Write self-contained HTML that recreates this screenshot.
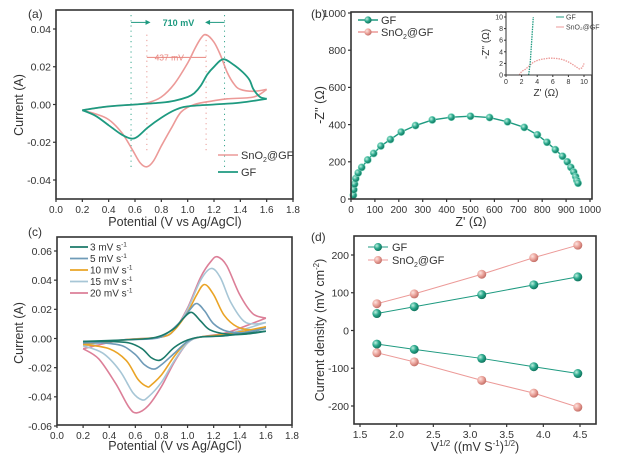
<!DOCTYPE html>
<html><head><meta charset="utf-8"><style>
html,body{margin:0;padding:0;background:#fff;}
svg{display:block;font-family:"Liberation Sans",sans-serif;}
</style></head><body>
<svg id="fig" width="625" height="461" viewBox="0 0 625 461" xmlns="http://www.w3.org/2000/svg">
<defs>
<radialGradient id="gG" cx="0.35" cy="0.35" r="0.7"><stop offset="0" stop-color="#bff0e0"/><stop offset="0.5" stop-color="#2aa88c"/><stop offset="1" stop-color="#0e6e58"/></radialGradient>
<radialGradient id="gP" cx="0.35" cy="0.35" r="0.7"><stop offset="0" stop-color="#fde4e0"/><stop offset="0.5" stop-color="#eba49c"/><stop offset="1" stop-color="#c06a62"/></radialGradient>
</defs>
</svg>
<script>
// ---- Panel (a) data ----
const aSnFwd=[[0.2,-0.003],[0.4,-0.001],[0.6,0.000],[0.7,0.001],[0.8,0.004],[0.9,0.011],[1.0,0.022],[1.05,0.029],[1.1,0.035],[1.14,0.037],[1.2,0.033],[1.25,0.026],[1.3,0.017],[1.35,0.011],[1.4,0.008],[1.5,0.007],[1.6,0.008]];
const aSnRev=[[1.6,0.008],[1.5,0.004],[1.3,0.003],[1.2,0.002],[1.05,0.000],[0.95,-0.004],[0.88,-0.012],[0.8,-0.022],[0.74,-0.030],[0.69,-0.033],[0.64,-0.031],[0.58,-0.024],[0.5,-0.015],[0.4,-0.008],[0.3,-0.005],[0.2,-0.003]];
const aGFFwd=[[0.2,-0.003],[0.4,-0.001],[0.6,0.000],[0.8,0.001],[0.9,0.002],[1.0,0.004],[1.05,0.006],[1.1,0.010],[1.15,0.016],[1.2,0.020],[1.27,0.024],[1.35,0.021],[1.42,0.017],[1.47,0.013],[1.5,0.008],[1.55,0.004],[1.6,0.003]];
const aGFRev=[[1.6,0.003],[1.4,0.001],[1.2,0.000],[1.0,-0.001],[0.9,-0.003],[0.8,-0.007],[0.7,-0.012],[0.62,-0.017],[0.57,-0.018],[0.5,-0.016],[0.4,-0.011],[0.3,-0.006],[0.2,-0.003]];
const aMarkersGF=[0.57,1.28];
const aMarkersSn=[0.69,1.14];
const aXTicks=[0,0.2,0.4,0.6,0.8,1.0,1.2,1.4,1.6,1.8];
const aYTicks=[-0.04,-0.02,0,0.02,0.04];
// ---- Panel (b) data ----
const bGF=[[10,20],[12,50],[15,80],[20,110],[30,140],[45,170],[70,210],[95,245],[125,285],[165,320],[210,360],[270,395],[340,425],[420,440],[500,445],[580,438],[655,415],[725,385],[780,345],[820,305],[855,265],[885,230],[905,200],[920,170],[932,145],[940,120],[945,100],[950,85]];
const bInsetGF=[[2.9,0],[3.0,1],[3.1,2],[3.15,3],[3.2,4],[3.25,5],[3.3,6],[3.35,7],[3.4,8],[3.45,9],[3.5,10],[3.55,11]];
const bInsetSn=[[1.7,0],[2.0,0.6],[2.5,1.0],[3.0,1.6],[3.5,2.2],[4,2.5],[4.5,2.7],[5,2.8],[5.5,2.9],[6,2.9],[6.5,2.85],[7,2.75],[7.5,2.55],[8,2.25],[8.5,1.85],[9,1.4],[9.4,1.05],[9.7,1.2],[9.9,1.6],[10,2.0]];
const bXTicks=[0,100,200,300,400,500,600,700,800,900,1000];
const bYTicks=[0,200,400,600,800,1000];
const bInXTicks=[0,2,4,6,8,10];
const bInYTicks=[0,2,4,6,8,10];
// ---- Panel (c) data ----
const cRates=["3","5","10","15","20"];
const cFwd3=[[0.2,-0.002],[0.5,-0.001],[0.7,0.000],[0.8,0.002],[0.9,0.007],[0.97,0.014],[1.03,0.018],[1.1,0.012],[1.17,0.006],[1.3,0.003],[1.45,0.003],[1.6,0.005]];
const cRev3=[[1.6,0.005],[1.3,0.002],[1.1,0.001],[1.0,-0.001],[0.9,-0.006],[0.82,-0.013],[0.78,-0.015],[0.72,-0.013],[0.65,-0.007],[0.55,-0.003],[0.4,-0.002],[0.2,-0.002]];
const cFwd5=[[0.2,-0.003],[0.5,-0.001],[0.75,0.000],[0.85,0.004],[0.95,0.012],[1.02,0.020],[1.07,0.024],[1.13,0.019],[1.2,0.010],[1.3,0.005],[1.45,0.004],[1.6,0.007]];
const cRev5=[[1.6,0.007],[1.3,0.002],[1.1,0.001],[1.0,-0.002],[0.9,-0.010],[0.8,-0.018],[0.74,-0.021],[0.67,-0.018],[0.6,-0.011],[0.5,-0.005],[0.35,-0.003],[0.2,-0.003]];
const cFwd10=[[0.2,-0.004],[0.5,-0.001],[0.8,0.001],[0.9,0.006],[1.0,0.018],[1.07,0.030],[1.13,0.037],[1.2,0.030],[1.28,0.016],[1.38,0.008],[1.5,0.006],[1.6,0.008]];
const cRev10=[[1.6,0.008],[1.3,0.003],[1.1,0.001],[1.0,-0.002],[0.9,-0.012],[0.8,-0.025],[0.72,-0.032],[0.69,-0.033],[0.62,-0.028],[0.53,-0.015],[0.4,-0.007],[0.2,-0.004]];
const cFwd15=[[0.2,-0.005],[0.5,-0.001],[0.8,0.001],[0.9,0.006],[1.0,0.020],[1.1,0.040],[1.18,0.048],[1.25,0.042],[1.33,0.025],[1.43,0.012],[1.52,0.010],[1.6,0.011]];
const cRev15=[[1.6,0.011],[1.3,0.003],[1.1,0.001],[1.0,-0.003],[0.9,-0.015],[0.8,-0.030],[0.7,-0.040],[0.65,-0.042],[0.58,-0.037],[0.48,-0.022],[0.35,-0.010],[0.2,-0.005]];
const cFwd20=[[0.2,-0.007],[0.5,-0.001],[0.8,0.001],[0.9,0.006],[1.0,0.021],[1.1,0.042],[1.18,0.053],[1.23,0.056],[1.3,0.050],[1.4,0.030],[1.5,0.017],[1.6,0.014]];
const cRev20=[[1.6,0.014],[1.3,0.004],[1.1,0.001],[1.0,-0.003],[0.9,-0.016],[0.8,-0.033],[0.7,-0.046],[0.61,-0.051],[0.55,-0.047],[0.45,-0.031],[0.32,-0.014],[0.2,-0.007]];
const cXTicks=[0,0.2,0.4,0.6,0.8,1.0,1.2,1.4,1.6,1.8];
const cYTicks=[-0.06,-0.04,-0.02,0,0.02,0.04,0.06];
// ---- Panel (d) data ----
const dX=[1.73,2.24,3.16,3.87,4.47];
const dGFpos=[45,63,95,121,142];
const dSnpos=[71,97,149,193,226];
const dGFneg=[-36,-50,-74,-96,-114];
const dSnneg=[-59,-83,-132,-166,-203];
const dXTicks=[1.5,2.0,2.5,3.0,3.5,4.0,4.5];
const dYTicks=[-200,-100,0,100,200];

const svg=document.getElementById('fig');
const NS='http://www.w3.org/2000/svg';
function mk(tag,attrs,parent,text){const e=document.createElementNS(NS,tag);for(const k in attrs)e.setAttribute(k,attrs[k]);if(text!==undefined)e.textContent=text;(parent||svg).appendChild(e);return e;}
function lin(v0,p0,v1,p1){return v=>p0+(v-v0)*(p1-p0)/(v1-v0);}
function smooth(pts){let d='M'+pts[0][0].toFixed(1)+','+pts[0][1].toFixed(1);for(let i=0;i<pts.length-1;i++){const p0=pts[i-1]||pts[i],p1=pts[i],p2=pts[i+1],p3=pts[i+2]||p2;const c1=[p1[0]+(p2[0]-p0[0])/6,p1[1]+(p2[1]-p0[1])/6],c2=[p2[0]-(p3[0]-p1[0])/6,p2[1]-(p3[1]-p1[1])/6];d+='C'+c1[0].toFixed(1)+','+c1[1].toFixed(1)+' '+c2[0].toFixed(1)+','+c2[1].toFixed(1)+' '+p2[0].toFixed(1)+','+p2[1].toFixed(1);}return d;}
function frame(g,L,T,R,B){mk('rect',{x:L,y:T,width:R-L,height:B-T,fill:'none',stroke:'#333','stroke-width':1.6},g);}
function xticks(g,ticks,sx,B,fmt,fs){ticks.forEach(t=>{const x=sx(t);mk('line',{x1:x,y1:B,x2:x,y2:B+3,stroke:'#333','stroke-width':1.2},g);const tl=mk('text',{x:x,y:B+14,'text-anchor':'middle','font-size':fs||10.5,fill:'#333'},g,fmt(t));});}
function yticks(g,ticks,sy,L,fmt,fs){ticks.forEach(t=>{const y=sy(t);mk('line',{x1:L-3,y1:y,x2:L,y2:y,stroke:'#333','stroke-width':1.2},g);const tl=mk('text',{x:L-5,y:y+3.8,'text-anchor':'end','font-size':fs||10.5,fill:'#333'},g,fmt(t));});}
function curve(g,pts,sx,sy,color,w,name){const p=mk('path',{d:smooth(pts.map(q=>[sx(q[0]),sy(q[1])])),fill:'none',stroke:color,'stroke-width':w||1.6},g);return p;}
function group(name){const g=mk('g',{},svg);return g;}
const f2=t=>t.toFixed(2), f1=t=>t.toFixed(1), f0=t=>String(t);
const PINK='#ec9a98', TEAL='#1e9a80';

// ===== Panel a =====
(function(){const g=group('panel-a-cv');const L=56,T=10,R=293,B=199;
const sx=lin(0,56,1.8,293), sy=lin(0.04,29,-0.04,180);
aMarkersGF.forEach(v=>{const l=mk('line',{x1:sx(v),y1:T+5,x2:sx(v),y2:sy(-0.035),stroke:'#3aa890','stroke-width':1,'stroke-dasharray':'1.2,4'},g);});
aMarkersSn.forEach(v=>{const l=mk('line',{x1:sx(v),y1:sy(0.037),x2:sx(v),y2:sy(-0.025),stroke:'#e89a94','stroke-width':1,'stroke-dasharray':'1.2,4'},g);});
const ya=sy(0.0435);
mk('line',{x1:sx(aMarkersGF[0]),y1:ya,x2:sx(0.68),y2:ya,stroke:TEAL,'stroke-width':1},g);
mk('path',{d:`M${sx(0.68)},${ya-2.5}L${sx(0.68)+5},${ya}L${sx(0.68)},${ya+2.5}Z`,fill:TEAL},g);
mk('line',{x1:sx(1.17),y1:ya,x2:sx(aMarkersGF[1]),y2:ya,stroke:TEAL,'stroke-width':1},g);
mk('path',{d:`M${sx(1.17)},${ya-2.5}L${sx(1.17)-5},${ya}L${sx(1.17)},${ya+2.5}Z`,fill:TEAL},g);
mk('text',{x:sx(0.93),y:ya+3.5,'text-anchor':'middle','font-size':9,fill:TEAL,'font-weight':'bold'},g,'710 mV');
const yb=sy(0.025);
mk('line',{x1:sx(aMarkersSn[0]),y1:yb,x2:sx(aMarkersSn[1]),y2:yb,stroke:'#e8857e','stroke-width':1},g);
mk('text',{x:sx(0.86),y:yb+3,'text-anchor':'middle','font-size':8.5,fill:'#e8857e'},g,'437 mV');
curve(g,aSnFwd,sx,sy,PINK,1.6,'sno2-gf-forward');curve(g,aSnRev,sx,sy,PINK,1.6,'sno2-gf-reverse');
curve(g,aGFFwd,sx,sy,TEAL,1.8,'gf-forward');curve(g,aGFRev,sx,sy,TEAL,1.8,'gf-reverse');
frame(g,L,T,R,B);xticks(g,aXTicks,sx,B,f1,10);yticks(g,aYTicks,sy,L,f2,10.5);
mk('text',{x:175,y:226,'text-anchor':'middle','font-size':12.5,fill:'#333'},g,'Potential (V vs Ag/AgCl)');
mk('text',{x:0,y:0,transform:'translate(23,105) rotate(-90)','text-anchor':'middle','font-size':12.5,fill:'#333'},g,'Current (A)');
mk('text',{x:28,y:18,'font-size':12,fill:'#333'},g,'(a)');
mk('line',{x1:218,y1:155,x2:238,y2:155,stroke:PINK,'stroke-width':1.6},g);
const t1=mk('text',{x:241,y:159,'font-size':11,fill:'#333'},g);t1.innerHTML='SnO<tspan font-size="7" dy="3">2</tspan><tspan dy="-3">@GF</tspan>';
mk('line',{x1:218,y1:172,x2:238,y2:172,stroke:TEAL,'stroke-width':1.8},g);
mk('text',{x:241,y:176,'font-size':11,fill:'#333'},g,'GF');
})();

// ===== Panel b =====
(function(){const g=group('panel-b-nyquist');const L=351,T=12,R=592,B=199;
const sx=lin(0,351,1000,590), sy=lin(0,199,1000,13);
const p=mk('polyline',{points:bGF.map(q=>sx(q[0])+','+sy(q[1])).join(' '),fill:'none',stroke:TEAL,'stroke-width':1.4},g);
bGF.forEach(q=>{const c=mk('circle',{cx:sx(q[0]),cy:sy(q[1]),r:3.6,fill:'url(#gG)',stroke:'#7fd8c0','stroke-width':0.6},g);});
frame(g,L,T,R,B);xticks(g,bXTicks,sx,B,f0,10);yticks(g,bYTicks,sy,L,f0,10.5);
mk('text',{x:471,y:226,'text-anchor':'middle','font-size':12.5,fill:'#333'},g,"Z' (Ω)");
mk('text',{x:0,y:0,transform:'translate(324,105) rotate(-90)','text-anchor':'middle','font-size':12.5,fill:'#333'},g,"-Z'' (Ω)");
mk('text',{x:311,y:18,'font-size':12,fill:'#333'},g,'(b)');
mk('line',{x1:358,y1:20,x2:378,y2:20,stroke:TEAL,'stroke-width':1.4},g);mk('circle',{cx:368,cy:20,r:3.6,fill:'url(#gG)'},g);
mk('text',{x:381,y:24,'font-size':11,fill:'#333'},g,'GF');
mk('line',{x1:358,y1:32,x2:378,y2:32,stroke:PINK,'stroke-width':1.4},g);mk('circle',{cx:368,cy:32,r:3.6,fill:'url(#gP)'},g);
const t=mk('text',{x:381,y:36,'font-size':11,fill:'#333'},g);t.innerHTML='SnO<tspan font-size="7" dy="3">2</tspan><tspan dy="-3">@GF</tspan>';
// inset
const gi=group('nyquist-inset');const iL=506,iT=12,iR=592,iB=75;
const ix=lin(0,506,10,584), iy=lin(0,75,10,17);
mk('rect',{x:iL,y:iT,width:iR-iL,height:iB-iT,fill:'#fff'},gi);
const ps=mk('polyline',{points:bInsetSn.map(q=>ix(q[0])+','+iy(q[1])).join(' '),fill:'none',stroke:PINK,'stroke-width':1.3,'stroke-dasharray':'1.5,1'},gi);
const pg=mk('polyline',{points:bInsetGF.filter(q=>iy(q[1])>=iT).map(q=>ix(q[0])+','+iy(q[1])).join(' '),fill:'none',stroke:TEAL,'stroke-width':1.3,'stroke-dasharray':'1.5,1'},gi);
mk('rect',{x:iL,y:iT,width:iR-iL,height:iB-iT,fill:'none',stroke:'#333','stroke-width':1},gi);
bInXTicks.forEach(t=>{mk('line',{x1:ix(t),y1:iB,x2:ix(t),y2:iB+2,stroke:'#333'},gi);mk('text',{x:ix(t),y:iB+9,'text-anchor':'middle','font-size':7,fill:'#333'},gi,String(t));});
bInYTicks.forEach(t=>{mk('line',{x1:iL-2,y1:iy(t),x2:iL,y2:iy(t),stroke:'#333'},gi);mk('text',{x:iL-3,y:iy(t)+2.5,'text-anchor':'end','font-size':7,fill:'#333'},gi,String(t));});
mk('text',{x:546,y:96,'text-anchor':'middle','font-size':10,fill:'#333'},gi,"Z' (Ω)");
mk('text',{x:0,y:0,transform:'translate(489,44) rotate(-90)','text-anchor':'middle','font-size':10,fill:'#333'},gi,"-Z'' (Ω)");
mk('line',{x1:556,y1:17,x2:564,y2:17,stroke:TEAL},gi);mk('text',{x:566,y:19.5,'font-size':7,fill:'#444'},gi,'GF');
mk('line',{x1:556,y1:27,x2:564,y2:27,stroke:PINK},gi);mk('text',{x:566,y:29.5,'font-size':7,fill:'#444'},gi,'SnO₂@GF');
})();

// ===== Panel c =====
(function(){const g=group('panel-c-cv-rates');const L=57,T=237,R=292,B=425;
const sx=lin(0,57,1.8,292), sy=lin(0.06,251,-0.06,426);
const cols=['#1b7a6a','#6f9bb8','#eaa426','#a7c6d6','#dc7f98'];
const fw=[cFwd3,cFwd5,cFwd10,cFwd15,cFwd20], rv=[cRev3,cRev5,cRev10,cRev15,cRev20];
for(let i=4;i>=0;i--){curve(g,fw[i],sx,sy,cols[i],1.6,'cv-'+cRates[i]+'-forward');curve(g,rv[i],sx,sy,cols[i],1.6,'cv-'+cRates[i]+'-reverse');}
frame(g,L,T,R,B);xticks(g,cXTicks,sx,B,f1,10);yticks(g,cYTicks,sy,L,f2,10.5);
mk('text',{x:175,y:450,'text-anchor':'middle','font-size':12.5,fill:'#333'},g,'Potential (V vs Ag/AgCl)');
mk('text',{x:0,y:0,transform:'translate(23,333) rotate(-90)','text-anchor':'middle','font-size':12.5,fill:'#333'},g,'Current (A)');
mk('text',{x:28,y:236,'font-size':12,fill:'#333'},g,'(c)');
cRates.forEach((r,i)=>{const y=247+i*11.5;mk('line',{x1:70,y1:y,x2:88,y2:y,stroke:cols[i],'stroke-width':1.8},g);const t=mk('text',{x:90,y:y+3.5,'font-size':10,fill:'#333'},g);t.innerHTML=r+' mV s<tspan font-size="6.5" dy="-4">-1</tspan>';});
})();

// ===== Panel d =====
(function(){const g=group('panel-d-current-density');const L=354,T=236,R=596,B=424;
const sx=lin(1.5,360,4.5,580), sy=lin(200,255,-200,406);
function series(ys,grad,lc,name){const pl=mk('polyline',{points:dX.map((x,i)=>sx(x)+','+sy(ys[i])).join(' '),fill:'none',stroke:lc,'stroke-width':1},g);
dX.forEach((x,i)=>{const c=mk('circle',{cx:sx(x),cy:sy(ys[i]),r:4.5,fill:grad},g);});}
series(dSnpos,'url(#gP)',PINK,'sno2-gf-anodic');series(dGFpos,'url(#gG)',TEAL,'gf-anodic');
series(dGFneg,'url(#gG)',TEAL,'gf-cathodic');series(dSnneg,'url(#gP)',PINK,'sno2-gf-cathodic');
frame(g,L,T,R,B);xticks(g,dXTicks,sx,B,f1,10.5);yticks(g,dYTicks,sy,L,f0,10.5);
const xt=mk('text',{x:475,y:451,'text-anchor':'middle','font-size':12.5,fill:'#333'},g);xt.innerHTML='V<tspan font-size="8" dy="-5">1/2</tspan><tspan dy="5"> ((mV S</tspan><tspan font-size="8" dy="-5">-1</tspan><tspan dy="5">)</tspan><tspan font-size="8" dy="-5">1/2</tspan><tspan dy="5">)</tspan>';
const yt=mk('text',{x:0,y:0,transform:'translate(324,330) rotate(-90)','text-anchor':'middle','font-size':12.5,fill:'#333'},g);yt.innerHTML='Current density (mV cm<tspan font-size="8" dy="-5">-2</tspan><tspan dy="5">)</tspan>';
mk('text',{x:311,y:241,'font-size':12,fill:'#333'},g,'(d)');
mk('line',{x1:368,y1:247,x2:388,y2:247,stroke:TEAL},g);mk('circle',{cx:378,cy:247,r:4,fill:'url(#gG)'},g);
mk('text',{x:392,y:251,'font-size':11,fill:'#333'},g,'GF');
mk('line',{x1:368,y1:260,x2:388,y2:260,stroke:PINK},g);mk('circle',{cx:378,cy:260,r:4,fill:'url(#gP)'},g);
const t=mk('text',{x:392,y:264,'font-size':11,fill:'#333'},g);t.innerHTML='SnO<tspan font-size="7" dy="3">2</tspan><tspan dy="-3">@GF</tspan>';
})();
</script>
</body></html>
